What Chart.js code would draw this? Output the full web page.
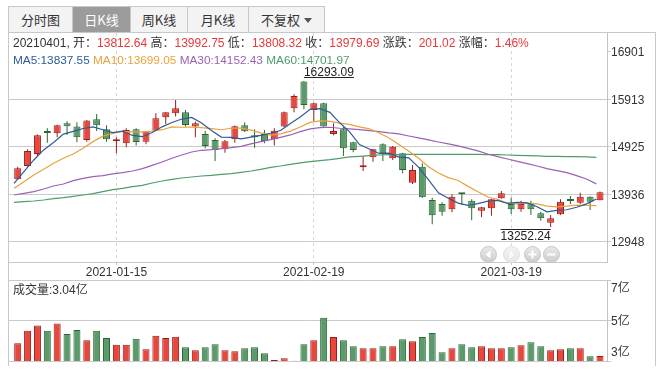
<!DOCTYPE html>
<html><head><meta charset="utf-8">
<script src="https://cdn.jsdelivr.net/npm/chart.js@4.4.0/dist/chart.umd.min.js"></script>
<style>
html,body{margin:0;padding:0;background:#fff;}
body{width:665px;height:370px;position:relative;overflow:hidden;font-family:"Liberation Sans","Noto Sans CJK SC",sans-serif;color:#333;}
#tabs{position:absolute;left:8px;top:6px;height:25px;display:flex;border:1px solid #c8c8c8;border-bottom:none;background:#f3f3f3;}
.tab{box-sizing:border-box;height:25px;line-height:25px;border-right:1px solid #c8c8c8;text-align:center;font-size:13px;color:#333;font-family:"Noto Sans CJK SC","Liberation Sans",sans-serif;}
.tab:last-child{border-right:none;}
.tab.sel{background:#9b9b9b;color:#fff;}
.caret{display:inline-block;width:0;height:0;border-left:4px solid transparent;border-right:4px solid transparent;border-top:5px solid #555;vertical-align:middle;margin-left:4px;margin-top:-2px;}
#frame{position:absolute;left:8px;top:32px;width:648px;height:334px;box-sizing:border-box;border:1px solid #c8c8c8;border-bottom:none;}
.row{position:absolute;left:13px;font-size:12px;line-height:14px;white-space:nowrap;}
#legend{font-size:11.8px;}
.r{color:#e4393c;}
canvas{position:absolute;left:0;}
.nb{position:absolute;width:17px;height:17px;border-radius:50%;box-sizing:border-box;border:1px solid #c6c6c6;background:linear-gradient(#e9e9e9,#cdcdcd);}
.nb.dis{background:linear-gradient(#f3f3f3,#e6e6e6);border-color:#dedede;}
.nb svg{position:absolute;left:0;top:0;}
</style></head>
<body>
<div id="frame"></div>
<div id="tabs">
 <div class="tab" style="width:64px">分时图</div>
 <div class="tab sel" style="width:58px">日K线</div>
 <div class="tab" style="width:57px">周K线</div>
 <div class="tab" style="width:61px">月K线</div>
 <div class="tab" style="width:75px">不复权<span class="caret"></span></div>
</div>
<canvas id="c1" width="665" height="247" style="top:33px"></canvas>
<canvas id="c2" width="665" height="86" style="top:280px"></canvas>
<div class="row" id="info" style="top:36px"></div>
<div class="row" id="legend" style="top:53px"></div>
<div class="row" id="vol" style="top:283px"></div>
<div class="nb" style="left:480px;top:246px"><svg width="15" height="15"><path d="M9.5 3.5 L4.5 7.5 L9.5 11.5 Z" fill="#fff"/></svg></div>
<div class="nb dis" style="left:503px;top:246px"><svg width="15" height="15"><path d="M5.5 3.5 L10.5 7.5 L5.5 11.5 Z" fill="#fbfbfb"/></svg></div>
<div class="nb" style="left:524px;top:246px"><svg width="15" height="15"><path d="M3.5 7.5 H11.5 M7.5 3.5 V11.5" stroke="#fff" stroke-width="2"/></svg></div>
<div class="nb" style="left:543px;top:246px"><svg width="15" height="15"><path d="M3.5 7.5 H11.5" stroke="#fff" stroke-width="2"/></svg></div>
<script>
const dates = ['2020-12-31','2021-01-04','2021-01-05','2021-01-06','2021-01-07','2021-01-08','2021-01-11','2021-01-12','2021-01-13','2021-01-14',
 '2021-01-15','2021-01-18','2021-01-19','2021-01-20','2021-01-21','2021-01-22','2021-01-25','2021-01-26','2021-01-27','2021-01-28',
 '2021-01-29','2021-02-01','2021-02-02','2021-02-03','2021-02-04','2021-02-05','2021-02-08','2021-02-09','2021-02-10','2021-02-18',
 '2021-02-19','2021-02-22','2021-02-23','2021-02-24','2021-02-25','2021-02-26','2021-03-01','2021-03-02','2021-03-03','2021-03-04',
 '2021-03-05','2021-03-08','2021-03-09','2021-03-10','2021-03-11','2021-03-12','2021-03-15','2021-03-16','2021-03-17','2021-03-18',
 '2021-03-19','2021-03-22','2021-03-23','2021-03-24','2021-03-25','2021-03-26','2021-03-29','2021-03-30','2021-03-31','2021-04-01'];
const open = [14246,14524,14774,15233,15205,15413,15344,15066,15496,15288,
 15038,14996,15288,15031,15260,15538,15621,15642,15344,15191,
 15066,14871,15080,15371,15142,15191,15080,15344,15725,16281,
 15691,15830,15191,15288,15017,14496,14705,14976,14684,14788,
 14177,14510,13816,13732,13621,13955,13802,13594,13642,13851,
 13732,13621,13760,13538,13344,13517,13809,13760,13885,13812.64];
const high = [14510,14871,15177,15309,15385,15455,15434,15483,15607,15371,
 15121,15309,15309,15253,15621,15642,15899,15691,15448,15260,
 15101,15066,15365,15434,15288,15274,15309,15656,16017,16293.09,
 15844,15840,15413,15344,15031,14732,14880,14996,14941,14802,
 14545,14580,13864,13767,13934,13960,13830,13670,13844,14004,
 13864,13802,13802,13573,13503,13830,13900,13969,13895,13992.75];
const low = [14233,14510,14719,15010,15121,15170,15017,15031,15253,15031,
 14788,14913,14948,14975,15260,15399,15552,15344,15121,14892,
 14628,14802,15010,15233,14906,14996,14948,15330,15642,15705,
 15448,15340,15163,14732,14809,14420,14614,14628,14649,14372,
 14149,13864,13309,13490,13559,13712,13392,13455,13490,13844,
 13524,13573,13503,13385,13252.24,13503,13732,13732,13607,13808.32];
const close = [14475,14837,15163,15212,15371,15351,15121,15469,15371,15080,
 15052,15274,15024,15240,15517,15642,15725,15378,15413,14941,
 14858,15038,15351,15246,15121,15045,15260,15642,15982,15795,
 15830,15344,15253,14892,14858,14510,14871,14788,14927,14441,
 14441,13871,13496,13573,13885,13934,13642,13663,13830,13955,
 13621,13732,13621,13434,13434,13781,13795,13885,13778.67,13979.69];
const volume = [3.67,4.29,4.54,4.29,4.64,4.12,4.32,3.82,4.29,3.92,
 3.59,3.59,3.89,3.37,4.04,3.92,3.99,3.47,3.32,3.47,
 3.62,3.32,3.27,3.42,3.47,3.17,2.84,2.92,2.80,3.62,
 3.82,4.92,3.97,3.82,3.52,3.42,3.42,3.52,3.52,3.87,
 3.77,3.97,4.17,3.22,3.42,3.62,3.47,3.52,3.42,3.42,
 3.47,3.57,3.72,3.52,3.32,3.37,3.42,3.42,3.03,3.04];
const ma5 = [14163,14406,14649,14858,15012,15187,15244,15305,15337,15278,
 15219,15249,15160,15134,15221,15339,15430,15501,15535,15420,
 15263,15126,15120,15087,15123,15160,15205,15263,15410,15545,
 15702,15719,15641,15423,15235,14971,14877,14784,14791,14708,
 14694,14494,14235,13965,13853,13752,13706,13740,13791,13809,
 13747,13765,13756,13677,13569,13601,13613,13666,13735,13837.55];
const ma10 = [14059,14198,14337,14455,14580,14684,14774,14892,15031,15145,
 15203,15246,15233,15235,15250,15279,15339,15330,15335,15321,
 15301,15278,15310,15311,15271,15212,15165,15192,15249,15334,
 15431,15462,15452,15417,15390,15337,15298,15212,15107,14971,
 14833,14685,14510,14378,14281,14223,14100,13987,13878,13831,
 13749,13735,13748,13734,13689,13674,13689,13711,13706,13699.05];
const ma30 = [13920,13955,13990,14045,14108,14149,14219,14267,14302,14323,
 14358,14385,14420,14469,14538,14608,14684,14753,14816,14851,
 14865,14885,14906,14934,14983,15031,15073,15121,15170,15239,
 15295,15323,15330,15309,15295,15281,15260,15239,15212,15191,
 15149,15108,15066,15024,14983,14941,14892,14837,14774,14719,
 14670,14621,14573,14524,14469,14427,14385,14323,14253,14152.43];
const ma60 = [13767,13781,13795,13816,13844,13865,13892,13920,13948,13990,
 14031,14059,14094,14122,14170,14212,14246,14274,14295,14316,
 14330,14351,14365,14392,14420,14455,14496,14524,14559,14587,
 14615,14635,14656,14684,14712,14726,14740,14753,14760,14760,
 14764,14767,14767,14767,14767,14767,14767,14767,14760,14760,
 14753,14746,14740,14733,14726,14726,14719,14719,14712,14701.97];
const dateTickIdx = [10, 30, 50];
const priceTickValues = [12948, 13936.25, 14924.5, 15912.75, 16901];
const priceTickLabels = ['12948','13936','14925','15913','16901'];
const volTickLabels = ['3亿','5亿','7亿'];

const FONT = '"Liberation Sans","Noto Sans CJK SC",sans-serif';
const RED = '#e8473c', RED_D = '#9c1c1c', GRN = '#5a9a6b', GRN_D = '#2c6533';
const C_MA = ['#2e5b98','#e8a23e','#9d61b4','#4e9c6c'];
const XMIN = -0.983, XMAX = 59.71, LSHIFT = 0.37;
const YMIN = 12525.4, YMAX = 17292.3, VMIN = 2.79, VMAX = 6.79;

Chart.defaults.font.family = FONT;
Chart.defaults.font.size = 12;
Chart.defaults.color = '#333';

const n = close.length;
const n1 = n - 1;
const up = i => close[i] >= open[i];
const fmt = v => v.toFixed(2);
const chg = close[n1] - close[n1 - 1];
document.getElementById('info').innerHTML = dates[n1].replace(/-/g,'') + ', 开：<span class="r">' + fmt(open[n1]) +
 '</span> 高：<span class="r">' + fmt(high[n1]) + '</span> 低：<span class="r">' + fmt(low[n1]) +
 '</span> 收：<span class="r">' + fmt(close[n1]) + '</span> 涨跌：<span class="r">' + fmt(chg) +
 '</span> 涨幅：<span class="r">' + (chg / close[n1 - 1] * 100).toFixed(2) + '%</span>';
const mas = [['MA5', ma5], ['MA10', ma10], ['MA30', ma30], ['MA60', ma60]];
document.getElementById('legend').innerHTML = mas.map((m, k) => '<span style="color:' + C_MA[k] + '">' + m[0] + ':' + fmt(m[1][n1]) + '</span>').join(' ');
document.getElementById('vol').textContent = '成交量:' + fmt(volume[n1]) + '亿';

const extremaPlugin = {
  id: 'extrema',
  afterDatasetsDraw(chart) {
    const {ctx} = chart; const x = chart.scales.x, y = chart.scales.y;
    let hi = 0, lo = 0;
    high.forEach((v, i) => { if (v > high[hi]) hi = i; });
    low.forEach((v, i) => { if (v < low[lo]) lo = i; });
    ctx.save();
    ctx.font = '12px ' + FONT; ctx.fillStyle = '#222'; ctx.strokeStyle = '#222'; ctx.lineWidth = 1;
    const hx = x.getPixelForValue(hi), hy = y.getPixelForValue(high[hi]);
    const ht = fmt(high[hi]), hw = ctx.measureText(ht).width;
    ctx.textAlign = 'left'; ctx.textBaseline = 'alphabetic';
    ctx.fillText(ht, hx, hy - 5);
    const uy = Math.round(hy - 4) + 0.5;
    ctx.beginPath(); ctx.moveTo(hx, uy); ctx.lineTo(hx + hw, uy); ctx.stroke();
    const lx = x.getPixelForValue(lo), ly = y.getPixelForValue(low[lo]);
    const lt = fmt(low[lo]), lw = ctx.measureText(lt).width;
    const oy = Math.round(ly + 2) + 0.5;
    ctx.beginPath(); ctx.moveTo(lx - lw, oy); ctx.lineTo(lx, oy); ctx.stroke();
    ctx.textAlign = 'right';
    ctx.fillText(lt, lx, ly + 13);
    ctx.restore();
  }
};

const lineDs = (label, arr, color) => ({
  type: 'line', label, data: arr.map((v, i) => ({x: i, y: v})), xAxisID: 'xl', yAxisID: 'y',
  borderColor: color, borderWidth: 1.2, pointRadius: 0, tension: 0, fill: false, order: 1
});

new Chart(document.getElementById('c1'), {
  type: 'bar',
  data: {
    datasets: [
      lineDs('MA5', ma5, C_MA[0]), lineDs('MA10', ma10, C_MA[1]), lineDs('MA30', ma30, C_MA[2]), lineDs('MA60', ma60, C_MA[3]),
      {type: 'bar', label: 'body', data: open.map((o, i) => ({x: i, y: [o, close[i]]})), xAxisID: 'x', yAxisID: 'y',
       backgroundColor: c => up(c.dataIndex) ? RED : GRN, borderColor: c => up(c.dataIndex) ? RED_D : GRN_D,
       borderWidth: 1, borderSkipped: false, barThickness: 7, grouped: false, minBarLength: 2, inflateAmount: 0, order: 5},
      {type: 'bar', label: 'wick', data: low.map((l, i) => ({x: i, y: [l, high[i]]})), xAxisID: 'x', yAxisID: 'y',
       backgroundColor: c => up(c.dataIndex) ? RED_D : GRN_D, borderWidth: 0, barThickness: 1, grouped: false, inflateAmount: 0, order: 6}
    ]
  },
  options: {
    responsive: false, animation: false, devicePixelRatio: 1,
    layout: {padding: {left: 8, right: 0, top: 0, bottom: 0}, autoPadding: false},
    plugins: {legend: {display: false}, tooltip: {enabled: false}},
    scales: {
      x: {type: 'linear', min: XMIN, max: XMAX, offset: false, position: 'bottom',
          afterBuildTicks: s => { s.ticks = dateTickIdx.map(v => ({value: v})); },
          ticks: {callback: v => dates[v], autoSkip: false, maxRotation: 0, padding: 0, color: '#333'},
          grid: {offset: false, color: '#d6d6d6', tickLength: 3, tickColor: '#c8c8c8'},
          border: {display: true, color: '#c8c8c8', dash: [3, 3]},
          afterFit: s => { s.height = 18; s.paddingLeft = 0; s.paddingRight = 0; }},
      xl: {type: 'linear', display: false, min: XMIN + LSHIFT, max: XMAX + LSHIFT, offset: false, grid: {offset: false}},
      y: {position: 'right', min: YMIN, max: YMAX, beginAtZero: false,
          afterBuildTicks: s => { s.ticks = priceTickValues.map(v => ({value: v})); },
          ticks: {callback: (v, i) => priceTickLabels[i], padding: 0, labelOffset: 1, color: '#333', autoSkip: false},
          grid: {color: c => (c.index === priceTickValues.length - 1 ? 'rgba(0,0,0,0)' : '#cacaca'), tickColor: '#cacaca', tickLength: 4},
          border: {display: true, color: '#c2c2c2'},
          afterFit: s => { s.width = 58; s.paddingTop = 0; s.paddingBottom = 0; }}
    }
  },
  plugins: [extremaPlugin]
});

const volLabelPlugin = {
  id: 'volLabels',
  afterDraw(chart) {
    const {ctx} = chart; const y = chart.scales.y;
    const vals = [VMIN, (VMIN + VMAX) / 2, VMAX];
    const offs = [-8, 1, 9];
    ctx.save();
    ctx.font = '12px ' + FONT; ctx.fillStyle = '#333'; ctx.textAlign = 'left'; ctx.textBaseline = 'middle';
    vals.forEach((v, k) => ctx.fillText(volTickLabels[k], chart.chartArea.right + 4, y.getPixelForValue(v) + offs[k]));
    ctx.restore();
  }
};

new Chart(document.getElementById('c2'), {
  type: 'bar',
  data: {
    datasets: [{label: 'vol', data: volume.map((v, i) => ({x: i, y: v})),
      backgroundColor: c => up(c.dataIndex) ? RED : GRN, borderColor: c => up(c.dataIndex) ? RED_D : GRN_D,
      borderWidth: 1, borderSkipped: false, barThickness: 7, inflateAmount: 0}]
  },
  options: {
    responsive: false, animation: false, devicePixelRatio: 1,
    layout: {padding: {left: 8, right: 0, top: 0, bottom: 5}, autoPadding: false},
    plugins: {legend: {display: false}, tooltip: {enabled: false}},
    scales: {
      x: {type: 'linear', min: XMIN, max: XMAX, offset: false, display: false, grid: {offset: false}},
      y: {position: 'right', min: VMIN, max: VMAX, beginAtZero: false,
          afterBuildTicks: s => { s.ticks = [VMIN, (VMIN + VMAX) / 2, VMAX].map(v => ({value: v})); },
          ticks: {display: false},
          grid: {color: '#cacaca', tickLength: 4},
          border: {display: true, color: '#c2c2c2'},
          afterFit: s => { s.width = 58; s.paddingTop = 0; s.paddingBottom = 0; }}
    }
  },
  plugins: [volLabelPlugin]
});
</script>
</body></html>
